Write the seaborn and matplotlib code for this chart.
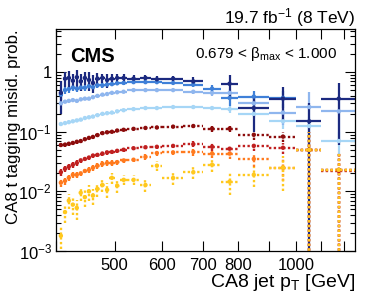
import numpy as np
import pandas as pd
import matplotlib
matplotlib.use("Agg")
import matplotlib.pyplot as plt
import matplotlib.ticker as mticker
import seaborn as sns

# ---------------- data ----------------
bin_edges = [404, 411, 417, 423, 430, 436, 443, 450, 457, 464, 473, 482, 490, 500,
             510, 525, 550, 575, 600, 650, 700, 750, 800, 900, 1000, 1100, 1250]

nan = float("nan")
navy_val = [0.45, 0.78, 0.80, 0.72, 0.82, 0.70, 0.80, 0.74, 0.66, 0.78, 0.80, 0.74, 0.78,
            0.80, 0.80, 0.78, 0.80, 0.76, 0.78, 0.70, nan, 0.64, 0.25, 0.36, 0.15, 0.36]
navy_err = [0.25, 0.22, 0.25, 0.20, 0.25, 0.22, 0.20, 0.25, 0.22, 0.20, 0.15, 0.20, 0.15,
            0.15, 0.12, 0.10, 0.10, 0.10, 0.08, 0.12, nan, 0.25, 0.15, 0.20, 0.15, 0.30]

blue_val = [0.42, 0.50, 0.52, 0.55, 0.53, 0.55, 0.55, 0.58, 0.56, 0.60, 0.60, 0.62, 0.63,
            0.65, 0.66, 0.68, 0.68, 0.68, 0.66, 0.62, 0.53, 0.37, 0.39, 0.37, nan, nan]
blue_err = [0.08, 0.07, 0.07, 0.07, 0.06, 0.06, 0.06, 0.06, 0.05, 0.05, 0.05, 0.05, 0.04,
            0.04, 0.04, 0.03, 0.03, 0.03, 0.03, 0.05, 0.08, 0.10, 0.10, 0.12, nan, nan]

lblue_val = [0.30, 0.32, 0.33, 0.34, 0.33, 0.35, 0.36, 0.36, 0.38, 0.40, 0.42, 0.43, 0.45,
             0.46, 0.47, 0.50, 0.50, 0.50, 0.50, 0.47, 0.45, 0.45, 0.30, 0.21, 0.26, 0.22]
lblue_err = [0.02, 0.02, 0.02, 0.02, 0.02, 0.02, 0.02, 0.02, 0.02, 0.02, 0.02, 0.02, 0.02,
             0.02, 0.02, 0.02, 0.02, 0.02, 0.02, 0.04, 0.05, 0.08, 0.08, 0.08, 0.20, 0.15]

sky_val = [0.135, 0.14, 0.145, 0.15, 0.155, 0.16, 0.17, 0.175, 0.18, 0.19, 0.20, 0.205, 0.21,
           0.22, 0.23, 0.24, 0.25, 0.25, 0.26, 0.26, 0.25, 0.24, 0.20, 0.15, 0.125, 0.07]
sky_err = [0.008, 0.008, 0.008, 0.008, 0.008, 0.008, 0.008, 0.008, 0.008, 0.008, 0.008, 0.008,
           0.008, 0.008, 0.008, 0.008, 0.008, 0.008, 0.008, 0.015, 0.02, 0.03, 0.03, 0.04,
           0.05, 0.03]

dred_val = [0.060, 0.061, 0.063, 0.065, 0.068, 0.070, 0.075, 0.079, 0.082, 0.088, 0.095,
            0.098, 0.100, 0.105, 0.108, 0.112, 0.116, 0.118, 0.122, 0.125, 0.113, 0.113,
            0.089, 0.083, 0.050, 0.023]
dred_err = [0.005, 0.005, 0.005, 0.005, 0.005, 0.005, 0.005, 0.005, 0.005, 0.005, 0.006,
            0.006, 0.006, 0.006, 0.006, 0.006, 0.006, 0.006, 0.006, 0.010, 0.012, 0.012,
            0.015, 0.015, 0.050, 0.023]

red_val = [0.021, 0.024, 0.026, 0.028, 0.030, 0.033, 0.035, 0.037, 0.040, 0.041, 0.043,
           0.045, 0.046, 0.048, 0.050, 0.053, 0.055, 0.056, 0.058, 0.062, 0.056, 0.052,
           0.058, 0.054, 0.050, 0.022]
red_err = [0.003, 0.003, 0.003, 0.003, 0.003, 0.003, 0.003, 0.003, 0.003, 0.003, 0.004,
           0.004, 0.004, 0.004, 0.004, 0.004, 0.004, 0.004, 0.004, 0.007, 0.008, 0.009,
           0.010, 0.012, 0.050, 0.022]

orange_val = [0.014, 0.015, 0.017, 0.019, 0.019, 0.020, 0.022, 0.023, 0.025, 0.027, 0.029,
              0.030, 0.030, 0.031, 0.033, 0.034, 0.038, 0.044, 0.045, 0.046, 0.043, 0.043,
              0.035, 0.025, 0.050, 0.023]
orange_err = [0.002, 0.002, 0.002, 0.002, 0.002, 0.002, 0.002, 0.003, 0.003, 0.003, 0.003,
              0.003, 0.003, 0.003, 0.003, 0.003, 0.004, 0.004, 0.004, 0.006, 0.007, 0.008,
              0.009, 0.010, 0.050, 0.023]

yellow_val = [0.0018, 0.0045, 0.0070, 0.0060, 0.0053, 0.0095, 0.0080, 0.0100, 0.0085, 0.0110,
              0.0128, 0.0106, 0.0169, 0.0125, 0.0156, 0.0156, 0.0128, 0.0270, 0.0168, 0.0210,
              0.0280, 0.0146, 0.0190, 0.0250, 0.0500, 0.0230]
yellow_err = [0.0007, 0.0015, 0.0020, 0.0020, 0.0020, 0.0025, 0.0025, 0.0030, 0.0025, 0.0030,
              0.0030, 0.0030, 0.0035, 0.0030, 0.0030, 0.0030, 0.0030, 0.0050, 0.0040, 0.0050,
              0.0070, 0.0060, 0.0070, 0.0150, 0.0500, 0.0230]

series_names = ["sky", "lblue", "blue", "navy", "dred", "red", "orange", "yellow"]
series_vals = [sky_val, lblue_val, blue_val, navy_val, dred_val, red_val, orange_val, yellow_val]
series_errs = [sky_err, lblue_err, blue_err, navy_err, dred_err, red_err, orange_err, yellow_err]
series_colors = ["#a6d6f6", "#8fb6ee", "#3f80d8", "#1c2a80",
                 "#8c0c0c", "#c02020", "#ff7a1e", "#ffc81e"]
series_dotted = [False, False, False, False, True, True, True, True]

# ---------------- style ----------------
sns.set_theme(style="ticks")
plt.rcParams["font.family"] = ["Liberation Sans", "DejaVu Sans"]
plt.rcParams["mathtext.fontset"] = "custom"
plt.rcParams["mathtext.rm"] = "Liberation Sans"
plt.rcParams["mathtext.it"] = "Liberation Sans:italic"
plt.rcParams["mathtext.bf"] = "Liberation Sans:bold"
plt.rcParams["text.color"] = "black"
plt.rcParams["axes.labelcolor"] = "black"
plt.rcParams["xtick.color"] = "black"
plt.rcParams["ytick.color"] = "black"
plt.rcParams["xtick.labelcolor"] = "black"
plt.rcParams["ytick.labelcolor"] = "black"

W, H = 374, 297
fig = plt.figure(figsize=(W / 100, H / 100), dpi=100)
ax = fig.add_axes([56 / W, 1 - 251 / H, 299 / W, 222 / H])

edges = np.array(bin_edges, dtype=float)
centers = 0.5 * (edges[:-1] + edges[1:])
xlo = centers - edges[:-1]
xhi = edges[1:] - centers

for name, vals, errs, col, dotted in zip(series_names, series_vals, series_errs,
                                         series_colors, series_dotted):
    v = np.array(vals, dtype=float)
    e = np.array(errs, dtype=float)
    eb = ax.errorbar(centers, v, xerr=[xlo, xhi], yerr=e, fmt="none", ecolor=col,
                     elinewidth=1.6, capsize=0, zorder=2)
    if dotted:
        for lc in eb[2]:
            lc.set_linestyle((0, (1, 1)))
            lc.set_linewidth(1.7)
    df = pd.DataFrame({"pt": centers, "prob": v}).dropna()
    sns.scatterplot(data=df, x="pt", y="prob", color=col, s=10, edgecolor="none",
                    linewidth=0, legend=False, ax=ax, zorder=3)

ax.set_xscale("log")
ax.set_yscale("log")
ax.set_xlim(400, 1250)
ax.set_ylim(1e-3, 5.3)

xt = [400, 500, 600, 700, 800, 900, 1000, 1100, 1200]
xt_labels = ["", "500", "600", "700", "800", "", "1000", "", ""]
ax.xaxis.set_major_locator(mticker.FixedLocator(xt))
ax.xaxis.set_major_formatter(mticker.FixedFormatter(xt_labels))
ax.xaxis.set_minor_locator(mticker.NullLocator())

yt = [1e-3, 1e-2, 1e-1, 1]
yt_labels = [r"$\mathregular{10^{-3}}$", r"$\mathregular{10^{-2}}$",
             r"$\mathregular{10^{-1}}$", "1"]
ax.yaxis.set_major_locator(mticker.FixedLocator(yt))
ax.yaxis.set_major_formatter(mticker.FixedFormatter(yt_labels))
ax.yaxis.set_minor_locator(mticker.LogLocator(base=10, subs=np.arange(2, 10), numticks=20))
ax.yaxis.set_minor_formatter(mticker.NullFormatter())

ax.tick_params(which="both", direction="in", top=True, right=True, colors="black",
               labelsize=12, width=0.8)
ax.tick_params(which="major", length=7)
ax.tick_params(which="minor", length=3.5)
ax.tick_params(axis="x", pad=5)
ax.tick_params(axis="y", pad=3)
for sp in ax.spines.values():
    sp.set_linewidth(0.9)
    sp.set_color("black")

ax.set_xlabel(r"CA8 jet $\mathregular{p_{T}}$ [GeV]", fontsize=14, ha="right")
ax.xaxis.set_label_coords(1.0, -0.095)
ax.set_ylabel("CA8 t tagging misid. prob.", fontsize=12.2, ha="right")
ax.yaxis.set_label_coords(-0.118, 1.0)

fig.text(355 / W, 1 - 23 / H, r"19.7 fb$\mathregular{^{-1}}$ (8 TeV)", ha="right",
         va="baseline", fontsize=12.5)
fig.text(70 / W, 1 - 62 / H, "CMS", ha="left", va="baseline", fontsize=14.5,
         fontweight="bold")
fig.text(337 / W, 1 - 58 / H, r"0.679 < $\mathregular{\beta_{max}}$ < 1.000", ha="right",
         va="baseline", fontsize=11)

fig.savefig("out.png", dpi=100, facecolor="white")
